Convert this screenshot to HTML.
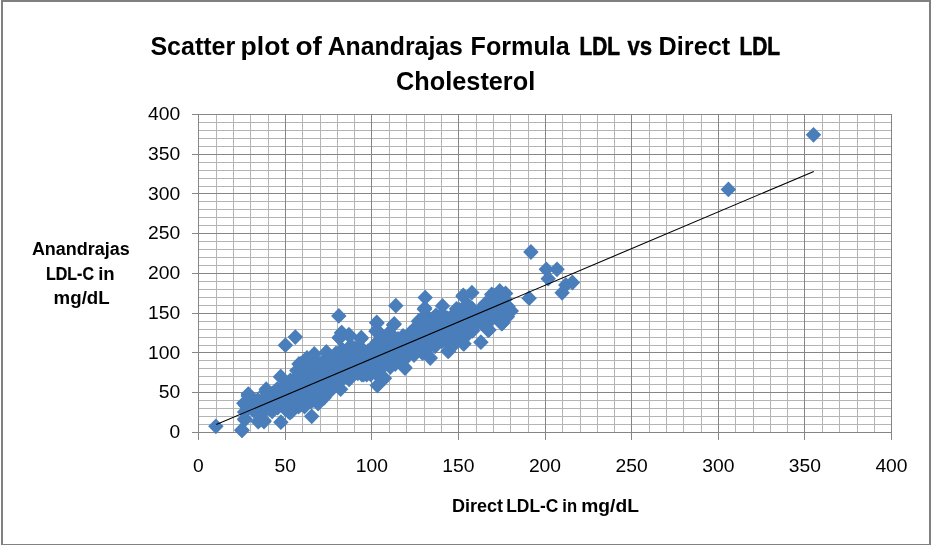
<!DOCTYPE html>
<html lang="en"><head><meta charset="utf-8"><title>Scatter plot of Anandrajas Formula LDL vs Direct LDL Cholesterol</title>
<style>html,body{margin:0;padding:0;background:#fff;overflow:hidden}body{width:931px;height:545px}svg{display:block}text{font-family:"Liberation Sans",Arial,Helvetica,sans-serif}</style>
</head><body>
<svg width="931" height="545" viewBox="0 0 931 545">
<rect x="0" y="0" width="931" height="545" fill="#fff"/>
<g fill="#808080" shape-rendering="crispEdges">
<rect x="1" y="0" width="930" height="2"/>
<rect x="1" y="0" width="2" height="545"/>
<rect x="929" y="0" width="2" height="545"/>
<rect x="1" y="544" width="930" height="1"/>
</g>
<g shape-rendering="crispEdges">
<path d="M198 424.5H892M216.5 114V433M198 416.5H892M233.5 114V433M198 408.5H892M250.5 114V433M198 400.5H892M268.5 114V433M198 384.5H892M302.5 114V433M198 376.5H892M320.5 114V433M198 368.5H892M337.5 114V433M198 360.5H892M354.5 114V433M198 345.5H892M389.5 114V433M198 337.5H892M406.5 114V433M198 329.5H892M424.5 114V433M198 321.5H892M441.5 114V433M198 305.5H892M476.5 114V433M198 297.5H892M493.5 114V433M198 289.5H892M510.5 114V433M198 281.5H892M528.5 114V433M198 265.5H892M562.5 114V433M198 257.5H892M580.5 114V433M198 249.5H892M597.5 114V433M198 241.5H892M614.5 114V433M198 225.5H892M649.5 114V433M198 217.5H892M666.5 114V433M198 209.5H892M683.5 114V433M198 201.5H892M701.5 114V433M198 186.5H892M735.5 114V433M198 178.5H892M753.5 114V433M198 170.5H892M770.5 114V433M198 162.5H892M787.5 114V433M198 146.5H892M822.5 114V433M198 138.5H892M839.5 114V433M198 130.5H892M857.5 114V433M198 122.5H892M874.5 114V433" stroke="#b4b4b4" stroke-width="1" fill="none"/>
<path d="M192 432.5H892M198.5 114V440M192 392.5H892M285.5 114V440M192 352.5H892M371.5 114V440M192 313.5H892M458.5 114V440M192 273.5H892M545.5 114V440M192 233.5H892M631.5 114V440M192 193.5H892M718.5 114V440M192 154.5H892M804.5 114V440M192 114.5H892M891.5 114V440" stroke="#868686" stroke-width="1" fill="none"/>
</g>
<defs><path id="d" d="M0-7.9L7.75 0 0 7.9-7.75 0Z"/></defs>
<g fill="#4a7ebb">
<use href="#d" x="245.7" y="405.5"/>
<use href="#d" x="244.6" y="412.0"/>
<use href="#d" x="252.7" y="402.1"/>
<use href="#d" x="253.7" y="410.5"/>
<use href="#d" x="257.8" y="400.0"/>
<use href="#d" x="258.8" y="411.8"/>
<use href="#d" x="265.7" y="396.7"/>
<use href="#d" x="264.2" y="411.6"/>
<use href="#d" x="272.4" y="393.5"/>
<use href="#d" x="272.2" y="411.4"/>
<use href="#d" x="277.1" y="389.1"/>
<use href="#d" x="277.7" y="407.5"/>
<use href="#d" x="284.8" y="384.6"/>
<use href="#d" x="285.1" y="408.9"/>
<use href="#d" x="290.3" y="380.5"/>
<use href="#d" x="291.7" y="409.6"/>
<use href="#d" x="296.8" y="370.6"/>
<use href="#d" x="298.6" y="406.6"/>
<use href="#d" x="304.5" y="366.4"/>
<use href="#d" x="304.6" y="406.5"/>
<use href="#d" x="311.3" y="365.5"/>
<use href="#d" x="310.9" y="401.6"/>
<use href="#d" x="318.4" y="363.1"/>
<use href="#d" x="318.1" y="403.6"/>
<use href="#d" x="324.2" y="360.4"/>
<use href="#d" x="324.1" y="397.8"/>
<use href="#d" x="329.9" y="361.5"/>
<use href="#d" x="331.9" y="386.2"/>
<use href="#d" x="336.0" y="353.3"/>
<use href="#d" x="336.5" y="382.0"/>
<use href="#d" x="342.1" y="349.6"/>
<use href="#d" x="344.0" y="377.7"/>
<use href="#d" x="350.6" y="345.8"/>
<use href="#d" x="350.3" y="375.5"/>
<use href="#d" x="357.5" y="346.9"/>
<use href="#d" x="357.8" y="373.3"/>
<use href="#d" x="361.7" y="348.8"/>
<use href="#d" x="363.6" y="374.6"/>
<use href="#d" x="370.1" y="349.7"/>
<use href="#d" x="370.7" y="374.4"/>
<use href="#d" x="377.3" y="341.9"/>
<use href="#d" x="375.6" y="373.2"/>
<use href="#d" x="381.2" y="334.7"/>
<use href="#d" x="383.3" y="366.6"/>
<use href="#d" x="388.7" y="333.0"/>
<use href="#d" x="390.3" y="367.1"/>
<use href="#d" x="394.5" y="337.6"/>
<use href="#d" x="395.2" y="364.0"/>
<use href="#d" x="403.0" y="336.0"/>
<use href="#d" x="403.1" y="360.9"/>
<use href="#d" x="410.0" y="333.2"/>
<use href="#d" x="409.0" y="354.3"/>
<use href="#d" x="414.0" y="329.2"/>
<use href="#d" x="414.0" y="355.1"/>
<use href="#d" x="420.0" y="320.3"/>
<use href="#d" x="422.5" y="353.1"/>
<use href="#d" x="427.3" y="316.6"/>
<use href="#d" x="426.9" y="349.2"/>
<use href="#d" x="435.9" y="315.4"/>
<use href="#d" x="435.1" y="346.3"/>
<use href="#d" x="442.2" y="314.2"/>
<use href="#d" x="441.8" y="341.4"/>
<use href="#d" x="447.2" y="318.1"/>
<use href="#d" x="446.3" y="340.5"/>
<use href="#d" x="453.1" y="314.8"/>
<use href="#d" x="455.5" y="343.1"/>
<use href="#d" x="459.3" y="309.9"/>
<use href="#d" x="460.8" y="339.4"/>
<use href="#d" x="467.2" y="304.0"/>
<use href="#d" x="467.1" y="335.1"/>
<use href="#d" x="472.2" y="308.6"/>
<use href="#d" x="472.6" y="330.8"/>
<use href="#d" x="480.4" y="309.5"/>
<use href="#d" x="481.4" y="323.4"/>
<use href="#d" x="485.4" y="303.6"/>
<use href="#d" x="487.5" y="318.9"/>
<use href="#d" x="493.0" y="303.1"/>
<use href="#d" x="491.8" y="318.6"/>
<use href="#d" x="500.2" y="298.7"/>
<use href="#d" x="499.4" y="318.7"/>
<use href="#d" x="505.1" y="299.3"/>
<use href="#d" x="507.4" y="316.8"/>
<use href="#d" x="248.0" y="407.7"/>
<use href="#d" x="253.0" y="406.5"/>
<use href="#d" x="253.0" y="407.4"/>
<use href="#d" x="258.0" y="405.0"/>
<use href="#d" x="258.0" y="407.3"/>
<use href="#d" x="263.0" y="402.5"/>
<use href="#d" x="263.0" y="407.2"/>
<use href="#d" x="268.0" y="400.0"/>
<use href="#d" x="268.0" y="403.5"/>
<use href="#d" x="268.0" y="407.0"/>
<use href="#d" x="273.0" y="397.3"/>
<use href="#d" x="273.0" y="402.1"/>
<use href="#d" x="273.0" y="406.9"/>
<use href="#d" x="278.0" y="393.9"/>
<use href="#d" x="278.0" y="398.1"/>
<use href="#d" x="278.0" y="402.3"/>
<use href="#d" x="278.0" y="406.5"/>
<use href="#d" x="283.0" y="390.5"/>
<use href="#d" x="283.0" y="394.4"/>
<use href="#d" x="283.0" y="398.3"/>
<use href="#d" x="283.0" y="402.2"/>
<use href="#d" x="283.0" y="406.1"/>
<use href="#d" x="288.0" y="387.0"/>
<use href="#d" x="288.0" y="391.7"/>
<use href="#d" x="288.0" y="396.3"/>
<use href="#d" x="288.0" y="401.0"/>
<use href="#d" x="288.0" y="405.7"/>
<use href="#d" x="293.0" y="381.5"/>
<use href="#d" x="293.0" y="386.2"/>
<use href="#d" x="293.0" y="390.8"/>
<use href="#d" x="293.0" y="395.5"/>
<use href="#d" x="293.0" y="400.1"/>
<use href="#d" x="293.0" y="404.8"/>
<use href="#d" x="298.0" y="375.1"/>
<use href="#d" x="298.0" y="379.8"/>
<use href="#d" x="298.0" y="384.6"/>
<use href="#d" x="298.0" y="389.3"/>
<use href="#d" x="298.0" y="394.1"/>
<use href="#d" x="298.0" y="398.8"/>
<use href="#d" x="298.0" y="403.6"/>
<use href="#d" x="303.0" y="371.4"/>
<use href="#d" x="303.0" y="375.8"/>
<use href="#d" x="303.0" y="380.3"/>
<use href="#d" x="303.0" y="384.7"/>
<use href="#d" x="303.0" y="389.1"/>
<use href="#d" x="303.0" y="393.5"/>
<use href="#d" x="303.0" y="398.0"/>
<use href="#d" x="303.0" y="402.4"/>
<use href="#d" x="308.0" y="369.6"/>
<use href="#d" x="308.0" y="374.1"/>
<use href="#d" x="308.0" y="378.6"/>
<use href="#d" x="308.0" y="383.2"/>
<use href="#d" x="308.0" y="387.7"/>
<use href="#d" x="308.0" y="392.2"/>
<use href="#d" x="308.0" y="396.7"/>
<use href="#d" x="308.0" y="401.2"/>
<use href="#d" x="313.0" y="367.8"/>
<use href="#d" x="313.0" y="372.4"/>
<use href="#d" x="313.0" y="377.0"/>
<use href="#d" x="313.0" y="381.6"/>
<use href="#d" x="313.0" y="386.2"/>
<use href="#d" x="313.0" y="390.9"/>
<use href="#d" x="313.0" y="395.5"/>
<use href="#d" x="313.0" y="400.1"/>
<use href="#d" x="318.0" y="366.0"/>
<use href="#d" x="318.0" y="370.7"/>
<use href="#d" x="318.0" y="375.4"/>
<use href="#d" x="318.0" y="380.1"/>
<use href="#d" x="318.0" y="384.8"/>
<use href="#d" x="318.0" y="389.5"/>
<use href="#d" x="318.0" y="394.2"/>
<use href="#d" x="318.0" y="399.0"/>
<use href="#d" x="323.0" y="365.0"/>
<use href="#d" x="323.0" y="369.9"/>
<use href="#d" x="323.0" y="374.9"/>
<use href="#d" x="323.0" y="379.8"/>
<use href="#d" x="323.0" y="384.7"/>
<use href="#d" x="323.0" y="389.7"/>
<use href="#d" x="323.0" y="394.6"/>
<use href="#d" x="328.0" y="364.7"/>
<use href="#d" x="328.0" y="369.4"/>
<use href="#d" x="328.0" y="374.1"/>
<use href="#d" x="328.0" y="378.7"/>
<use href="#d" x="328.0" y="383.4"/>
<use href="#d" x="328.0" y="388.1"/>
<use href="#d" x="333.0" y="364.4"/>
<use href="#d" x="333.0" y="369.2"/>
<use href="#d" x="333.0" y="374.0"/>
<use href="#d" x="333.0" y="378.8"/>
<use href="#d" x="333.0" y="383.6"/>
<use href="#d" x="338.0" y="355.7"/>
<use href="#d" x="338.0" y="360.6"/>
<use href="#d" x="338.0" y="365.5"/>
<use href="#d" x="338.0" y="370.5"/>
<use href="#d" x="338.0" y="375.4"/>
<use href="#d" x="338.0" y="380.3"/>
<use href="#d" x="343.0" y="350.7"/>
<use href="#d" x="343.0" y="355.1"/>
<use href="#d" x="343.0" y="359.5"/>
<use href="#d" x="343.0" y="363.9"/>
<use href="#d" x="343.0" y="368.3"/>
<use href="#d" x="343.0" y="372.7"/>
<use href="#d" x="343.0" y="377.1"/>
<use href="#d" x="348.0" y="349.4"/>
<use href="#d" x="348.0" y="354.3"/>
<use href="#d" x="348.0" y="359.1"/>
<use href="#d" x="348.0" y="364.0"/>
<use href="#d" x="348.0" y="368.9"/>
<use href="#d" x="348.0" y="373.8"/>
<use href="#d" x="353.0" y="348.0"/>
<use href="#d" x="353.0" y="352.5"/>
<use href="#d" x="353.0" y="357.1"/>
<use href="#d" x="353.0" y="361.6"/>
<use href="#d" x="353.0" y="366.1"/>
<use href="#d" x="353.0" y="370.6"/>
<use href="#d" x="358.0" y="348.4"/>
<use href="#d" x="358.0" y="352.5"/>
<use href="#d" x="358.0" y="356.7"/>
<use href="#d" x="358.0" y="360.8"/>
<use href="#d" x="358.0" y="365.0"/>
<use href="#d" x="358.0" y="369.1"/>
<use href="#d" x="363.0" y="349.8"/>
<use href="#d" x="363.0" y="353.8"/>
<use href="#d" x="363.0" y="357.9"/>
<use href="#d" x="363.0" y="362.0"/>
<use href="#d" x="363.0" y="366.0"/>
<use href="#d" x="363.0" y="370.1"/>
<use href="#d" x="368.0" y="351.2"/>
<use href="#d" x="368.0" y="356.2"/>
<use href="#d" x="368.0" y="361.2"/>
<use href="#d" x="368.0" y="366.1"/>
<use href="#d" x="368.0" y="371.1"/>
<use href="#d" x="373.0" y="347.6"/>
<use href="#d" x="373.0" y="352.1"/>
<use href="#d" x="373.0" y="356.6"/>
<use href="#d" x="373.0" y="361.1"/>
<use href="#d" x="373.0" y="365.6"/>
<use href="#d" x="373.0" y="370.1"/>
<use href="#d" x="378.0" y="343.2"/>
<use href="#d" x="378.0" y="348.1"/>
<use href="#d" x="378.0" y="353.0"/>
<use href="#d" x="378.0" y="357.9"/>
<use href="#d" x="378.0" y="362.8"/>
<use href="#d" x="378.0" y="367.8"/>
<use href="#d" x="383.0" y="338.7"/>
<use href="#d" x="383.0" y="343.2"/>
<use href="#d" x="383.0" y="347.6"/>
<use href="#d" x="383.0" y="352.1"/>
<use href="#d" x="383.0" y="356.5"/>
<use href="#d" x="383.0" y="361.0"/>
<use href="#d" x="383.0" y="365.4"/>
<use href="#d" x="388.0" y="337.3"/>
<use href="#d" x="388.0" y="341.6"/>
<use href="#d" x="388.0" y="345.9"/>
<use href="#d" x="388.0" y="350.2"/>
<use href="#d" x="388.0" y="354.5"/>
<use href="#d" x="388.0" y="358.8"/>
<use href="#d" x="388.0" y="363.1"/>
<use href="#d" x="393.0" y="338.1"/>
<use href="#d" x="393.0" y="342.7"/>
<use href="#d" x="393.0" y="347.2"/>
<use href="#d" x="393.0" y="351.7"/>
<use href="#d" x="393.0" y="356.2"/>
<use href="#d" x="393.0" y="360.7"/>
<use href="#d" x="398.0" y="339.0"/>
<use href="#d" x="398.0" y="343.9"/>
<use href="#d" x="398.0" y="348.7"/>
<use href="#d" x="398.0" y="353.5"/>
<use href="#d" x="398.0" y="358.4"/>
<use href="#d" x="403.0" y="338.5"/>
<use href="#d" x="403.0" y="342.9"/>
<use href="#d" x="403.0" y="347.3"/>
<use href="#d" x="403.0" y="351.6"/>
<use href="#d" x="403.0" y="356.0"/>
<use href="#d" x="408.0" y="336.4"/>
<use href="#d" x="408.0" y="340.7"/>
<use href="#d" x="408.0" y="345.0"/>
<use href="#d" x="408.0" y="349.3"/>
<use href="#d" x="408.0" y="353.6"/>
<use href="#d" x="413.0" y="332.3"/>
<use href="#d" x="413.0" y="337.1"/>
<use href="#d" x="413.0" y="341.8"/>
<use href="#d" x="413.0" y="346.5"/>
<use href="#d" x="413.0" y="351.2"/>
<use href="#d" x="418.0" y="327.0"/>
<use href="#d" x="418.0" y="331.6"/>
<use href="#d" x="418.0" y="336.1"/>
<use href="#d" x="418.0" y="340.6"/>
<use href="#d" x="418.0" y="345.2"/>
<use href="#d" x="418.0" y="349.7"/>
<use href="#d" x="423.0" y="324.0"/>
<use href="#d" x="423.0" y="328.8"/>
<use href="#d" x="423.0" y="333.6"/>
<use href="#d" x="423.0" y="338.5"/>
<use href="#d" x="423.0" y="343.3"/>
<use href="#d" x="423.0" y="348.1"/>
<use href="#d" x="428.0" y="321.1"/>
<use href="#d" x="428.0" y="325.3"/>
<use href="#d" x="428.0" y="329.5"/>
<use href="#d" x="428.0" y="333.6"/>
<use href="#d" x="428.0" y="337.8"/>
<use href="#d" x="428.0" y="342.0"/>
<use href="#d" x="428.0" y="346.2"/>
<use href="#d" x="433.0" y="318.3"/>
<use href="#d" x="433.0" y="322.6"/>
<use href="#d" x="433.0" y="326.8"/>
<use href="#d" x="433.0" y="331.1"/>
<use href="#d" x="433.0" y="335.4"/>
<use href="#d" x="433.0" y="339.7"/>
<use href="#d" x="433.0" y="343.9"/>
<use href="#d" x="438.0" y="318.6"/>
<use href="#d" x="438.0" y="323.2"/>
<use href="#d" x="438.0" y="327.8"/>
<use href="#d" x="438.0" y="332.5"/>
<use href="#d" x="438.0" y="337.1"/>
<use href="#d" x="438.0" y="341.7"/>
<use href="#d" x="443.0" y="318.8"/>
<use href="#d" x="443.0" y="323.1"/>
<use href="#d" x="443.0" y="327.3"/>
<use href="#d" x="443.0" y="331.6"/>
<use href="#d" x="443.0" y="335.8"/>
<use href="#d" x="443.0" y="340.1"/>
<use href="#d" x="448.0" y="319.1"/>
<use href="#d" x="448.0" y="323.2"/>
<use href="#d" x="448.0" y="327.2"/>
<use href="#d" x="448.0" y="331.3"/>
<use href="#d" x="448.0" y="335.4"/>
<use href="#d" x="448.0" y="339.4"/>
<use href="#d" x="453.0" y="316.6"/>
<use href="#d" x="453.0" y="321.0"/>
<use href="#d" x="453.0" y="325.4"/>
<use href="#d" x="453.0" y="329.9"/>
<use href="#d" x="453.0" y="334.3"/>
<use href="#d" x="453.0" y="338.8"/>
<use href="#d" x="458.0" y="312.8"/>
<use href="#d" x="458.0" y="317.5"/>
<use href="#d" x="458.0" y="322.3"/>
<use href="#d" x="458.0" y="327.0"/>
<use href="#d" x="458.0" y="331.8"/>
<use href="#d" x="458.0" y="336.5"/>
<use href="#d" x="463.0" y="309.0"/>
<use href="#d" x="463.0" y="313.9"/>
<use href="#d" x="463.0" y="318.7"/>
<use href="#d" x="463.0" y="323.5"/>
<use href="#d" x="463.0" y="328.4"/>
<use href="#d" x="463.0" y="333.2"/>
<use href="#d" x="468.0" y="308.9"/>
<use href="#d" x="468.0" y="313.1"/>
<use href="#d" x="468.0" y="317.3"/>
<use href="#d" x="468.0" y="321.5"/>
<use href="#d" x="468.0" y="325.7"/>
<use href="#d" x="468.0" y="330.0"/>
<use href="#d" x="473.0" y="311.3"/>
<use href="#d" x="473.0" y="315.2"/>
<use href="#d" x="473.0" y="319.0"/>
<use href="#d" x="473.0" y="322.8"/>
<use href="#d" x="473.0" y="326.7"/>
<use href="#d" x="478.0" y="311.7"/>
<use href="#d" x="478.0" y="316.4"/>
<use href="#d" x="478.0" y="321.2"/>
<use href="#d" x="483.0" y="308.7"/>
<use href="#d" x="483.0" y="313.3"/>
<use href="#d" x="483.0" y="318.0"/>
<use href="#d" x="488.0" y="305.7"/>
<use href="#d" x="488.0" y="309.7"/>
<use href="#d" x="488.0" y="313.8"/>
<use href="#d" x="488.0" y="317.8"/>
<use href="#d" x="493.0" y="304.1"/>
<use href="#d" x="493.0" y="308.6"/>
<use href="#d" x="493.0" y="313.1"/>
<use href="#d" x="493.0" y="317.6"/>
<use href="#d" x="498.0" y="303.4"/>
<use href="#d" x="498.0" y="307.7"/>
<use href="#d" x="498.0" y="312.0"/>
<use href="#d" x="498.0" y="316.3"/>
<use href="#d" x="503.0" y="302.8"/>
<use href="#d" x="503.0" y="306.6"/>
<use href="#d" x="503.0" y="310.5"/>
<use href="#d" x="503.0" y="314.3"/>
<use href="#d" x="508.0" y="306.5"/>
<use href="#d" x="508.0" y="310.0"/>
<use href="#d" x="215.9" y="426.3"/>
<use href="#d" x="242.0" y="430.4"/>
<use href="#d" x="244.9" y="418.7"/>
<use href="#d" x="245.8" y="404.0"/>
<use href="#d" x="248.6" y="394.6"/>
<use href="#d" x="265.8" y="391.7"/>
<use href="#d" x="280.9" y="377.0"/>
<use href="#d" x="258.1" y="421.5"/>
<use href="#d" x="264.0" y="421.5"/>
<use href="#d" x="280.9" y="422.2"/>
<use href="#d" x="291.9" y="411.2"/>
<use href="#d" x="290.0" y="412.6"/>
<use href="#d" x="301.0" y="404.6"/>
<use href="#d" x="311.7" y="416.3"/>
<use href="#d" x="295.3" y="337.1"/>
<use href="#d" x="285.4" y="345.2"/>
<use href="#d" x="338.8" y="315.9"/>
<use href="#d" x="280.6" y="376.7"/>
<use href="#d" x="266.2" y="389.2"/>
<use href="#d" x="248.3" y="396.0"/>
<use href="#d" x="299.0" y="364.0"/>
<use href="#d" x="314.3" y="354.0"/>
<use href="#d" x="326.4" y="352.0"/>
<use href="#d" x="339.5" y="338.0"/>
<use href="#d" x="341.5" y="332.7"/>
<use href="#d" x="348.9" y="334.7"/>
<use href="#d" x="361.3" y="337.7"/>
<use href="#d" x="376.7" y="322.4"/>
<use href="#d" x="376.0" y="331.3"/>
<use href="#d" x="394.3" y="323.9"/>
<use href="#d" x="395.8" y="305.7"/>
<use href="#d" x="425.2" y="297.6"/>
<use href="#d" x="418.5" y="321.2"/>
<use href="#d" x="424.4" y="309.3"/>
<use href="#d" x="442.5" y="305.9"/>
<use href="#d" x="456.5" y="308.8"/>
<use href="#d" x="463.1" y="296.4"/>
<use href="#d" x="471.9" y="292.7"/>
<use href="#d" x="493.9" y="295.6"/>
<use href="#d" x="499.7" y="290.9"/>
<use href="#d" x="505.6" y="293.4"/>
<use href="#d" x="511.3" y="310.9"/>
<use href="#d" x="505.5" y="317.5"/>
<use href="#d" x="491.7" y="294.5"/>
<use href="#d" x="326.7" y="391.4"/>
<use href="#d" x="340.6" y="389.2"/>
<use href="#d" x="320.0" y="393.0"/>
<use href="#d" x="361.9" y="374.5"/>
<use href="#d" x="377.3" y="385.5"/>
<use href="#d" x="384.5" y="378.3"/>
<use href="#d" x="405.0" y="368.0"/>
<use href="#d" x="404.4" y="367.2"/>
<use href="#d" x="430.3" y="358.0"/>
<use href="#d" x="447.9" y="351.2"/>
<use href="#d" x="464.0" y="343.8"/>
<use href="#d" x="480.9" y="342.2"/>
<use href="#d" x="489.0" y="329.9"/>
<use href="#d" x="502.1" y="323.3"/>
<use href="#d" x="503.5" y="318.3"/>
<use href="#d" x="530.9" y="252.0"/>
<use href="#d" x="529.1" y="298.2"/>
<use href="#d" x="546.3" y="269.3"/>
<use href="#d" x="557.0" y="269.3"/>
<use href="#d" x="548.2" y="278.7"/>
<use href="#d" x="572.4" y="282.5"/>
<use href="#d" x="565.8" y="285.0"/>
<use href="#d" x="562.1" y="292.8"/>
<use href="#d" x="813.5" y="134.8"/>
<use href="#d" x="241.9" y="429.9"/>
<use href="#d" x="244.7" y="419.8"/>
<use href="#d" x="243.8" y="403.3"/>
<use href="#d" x="248.3" y="394.1"/>
<use href="#d" x="300.8" y="363.9"/>
<use href="#d" x="307.0" y="358.0"/>
<use href="#d" x="259.4" y="420.6"/>
<use href="#d" x="263.9" y="420.6"/>
<use href="#d" x="288.6" y="411.6"/>
<use href="#d" x="330.0" y="391.2"/>
<use href="#d" x="349.1" y="379.4"/>
<use href="#d" x="366.7" y="374.7"/>
<use href="#d" x="339.2" y="337.6"/>
<use href="#d" x="342.1" y="333.2"/>
<use href="#d" x="349.4" y="335.9"/>
<use href="#d" x="361.0" y="338.7"/>
<use href="#d" x="377.0" y="323.1"/>
<use href="#d" x="376.6" y="330.3"/>
<use href="#d" x="393.5" y="324.9"/>
<use href="#d" x="421.0" y="320.0"/>
<use href="#d" x="424.8" y="308.1"/>
<use href="#d" x="463.3" y="295.3"/>
<use href="#d" x="502.8" y="322.6"/>
<use href="#d" x="501.7" y="323.7"/>
<use href="#d" x="488.1" y="330.0"/>
<use href="#d" x="463.3" y="343.7"/>
<use href="#d" x="448.6" y="351.1"/>
<use href="#d" x="728.4" y="189.4"/>
</g>
<line x1="216.3" y1="424.6" x2="813.8" y2="171.4" stroke="#000" stroke-width="1.1"/>
<text y="54.7" font-size="25.8" font-weight="bold" fill="#000" xml:space="preserve"><tspan x="150.4" textLength="84.8" lengthAdjust="spacingAndGlyphs">Scatter</tspan> <tspan x="240.6" textLength="48.7" lengthAdjust="spacingAndGlyphs">plot</tspan> <tspan x="295.4" textLength="26.4" lengthAdjust="spacingAndGlyphs">of</tspan> <tspan x="327.7" textLength="135.2" lengthAdjust="spacingAndGlyphs">Anandrajas</tspan> <tspan x="470.6" textLength="99.2" lengthAdjust="spacingAndGlyphs">Formula</tspan> <tspan x="579.5" textLength="40.0" lengthAdjust="spacingAndGlyphs" stroke="#000" stroke-width="0.68" stroke-linejoin="round">LDL</tspan> <tspan x="627.4" textLength="24.7" lengthAdjust="spacingAndGlyphs" stroke="#000" stroke-width="0.46" stroke-linejoin="round">vs</tspan> <tspan x="658.6" textLength="71.6" lengthAdjust="spacingAndGlyphs">Direct</tspan> <tspan x="739.5" textLength="40.6" lengthAdjust="spacingAndGlyphs" stroke="#000" stroke-width="0.64" stroke-linejoin="round">LDL</tspan></text>
<text y="89.6" font-size="25.8" font-weight="bold" fill="#000" xml:space="preserve"><tspan x="396.1" textLength="139.1" lengthAdjust="spacingAndGlyphs">Cholesterol</tspan></text>
<text y="254.8" font-size="17.6" font-weight="bold" fill="#000" xml:space="preserve"><tspan x="31.9" textLength="97.9" lengthAdjust="spacingAndGlyphs">Anandrajas</tspan></text>
<text y="279.5" font-size="17.6" font-weight="bold" fill="#000" xml:space="preserve"><tspan x="46.1" textLength="47.8" lengthAdjust="spacingAndGlyphs" stroke="#000" stroke-width="0.22" stroke-linejoin="round">LDL-C</tspan> <tspan x="98.2" textLength="16.5" lengthAdjust="spacingAndGlyphs">in</tspan></text>
<text y="304.4" font-size="17.6" font-weight="bold" fill="#000" xml:space="preserve"><tspan x="53.6" textLength="56.1" lengthAdjust="spacingAndGlyphs">mg/dL</tspan></text>
<text y="512.3" font-size="17.7" font-weight="bold" fill="#000" xml:space="preserve"><tspan x="451.9" textLength="51.1" lengthAdjust="spacingAndGlyphs">Direct</tspan> <tspan x="506.2" textLength="52.2" lengthAdjust="spacingAndGlyphs">LDL-C</tspan> <tspan x="562.3" textLength="14.8" lengthAdjust="spacingAndGlyphs">in</tspan> <tspan x="581.3" textLength="57.6" lengthAdjust="spacingAndGlyphs">mg/dL</tspan></text>
<g font-size="18.2" fill="#000">
<text x="169.6" y="438.2" textLength="10.7" lengthAdjust="spacingAndGlyphs">0</text>
<text x="158.8" y="398.4" textLength="21.5" lengthAdjust="spacingAndGlyphs">50</text>
<text x="148.1" y="358.7" textLength="32.2" lengthAdjust="spacingAndGlyphs">100</text>
<text x="148.1" y="318.9" textLength="32.2" lengthAdjust="spacingAndGlyphs">150</text>
<text x="148.1" y="279.2" textLength="32.2" lengthAdjust="spacingAndGlyphs">200</text>
<text x="148.1" y="239.4" textLength="32.2" lengthAdjust="spacingAndGlyphs">250</text>
<text x="148.1" y="199.7" textLength="32.2" lengthAdjust="spacingAndGlyphs">300</text>
<text x="148.1" y="159.9" textLength="32.2" lengthAdjust="spacingAndGlyphs">350</text>
<text x="148.1" y="120.2" textLength="32.2" lengthAdjust="spacingAndGlyphs">400</text>
<text x="193.1" y="472.3" textLength="10.7" lengthAdjust="spacingAndGlyphs">0</text>
<text x="274.4" y="472.3" textLength="21.5" lengthAdjust="spacingAndGlyphs">50</text>
<text x="355.7" y="472.3" textLength="32.2" lengthAdjust="spacingAndGlyphs">100</text>
<text x="442.3" y="472.3" textLength="32.2" lengthAdjust="spacingAndGlyphs">150</text>
<text x="528.9" y="472.3" textLength="32.2" lengthAdjust="spacingAndGlyphs">200</text>
<text x="615.5" y="472.3" textLength="32.2" lengthAdjust="spacingAndGlyphs">250</text>
<text x="702.2" y="472.3" textLength="32.2" lengthAdjust="spacingAndGlyphs">300</text>
<text x="788.8" y="472.3" textLength="32.2" lengthAdjust="spacingAndGlyphs">350</text>
<text x="875.4" y="472.3" textLength="32.2" lengthAdjust="spacingAndGlyphs">400</text>
</g>
</svg></body></html>
